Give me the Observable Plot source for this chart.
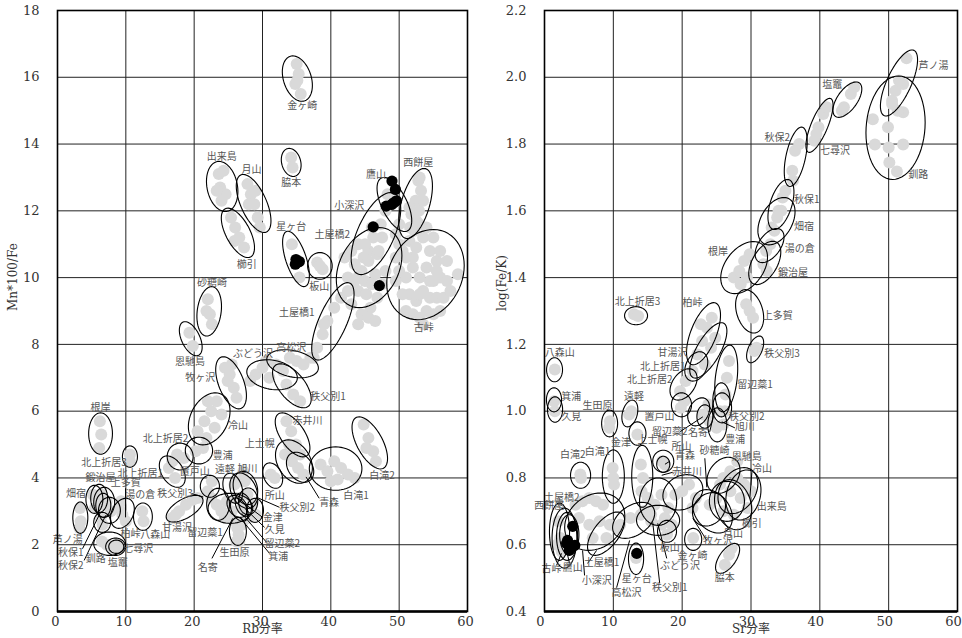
<!DOCTYPE html>
<html><head><meta charset="utf-8">
<script src="https://cdn.jsdelivr.net/npm/d3@7"></script>
<script src="https://cdn.jsdelivr.net/npm/@observablehq/plot@0.6"></script>
<style>
body{margin:0;background:#fff}
#wrap{display:flex;width:962px;height:638px;overflow:hidden}
</style>
</head><body><div id="wrap"></div>
<script>
// ---------- axis / tick data ----------
const xTicks = [0,10,20,30,40,50,60];
const leftYTicks = [0,2,4,6,8,10,12,14,16,18];
const rightYTicks = [0.4,0.6,0.8,1.0,1.2,1.4,1.6,1.8,2.0,2.2];
const leftTitles = {x:"Rb分率", y:"Mn*100/Fe"};
const rightTitles = {x:"Sr分率", y:"log(Fe/K)"};

// ---------- LEFT panel: Rb vs Mn*100/Fe ----------
// ellipses: [cx, cy, halfX, halfY, correlation]
const leftEllipses = [
[35.1,15.96,2.2,0.68,-0.3],[24.1,12.73,2.3,0.75,-0.2],[28.7,12.22,2.54,0.87,-0.6],[26.4,11.34,2.43,0.74,-0.6],
[34.2,13.45,1.45,0.42,-0.2],[34.9,10.56,1.96,0.83,-0.6],[38.4,10.35,1.8,0.4,0],[52.4,12.22,2.47,1.05,0.5],
[49.3,12.19,2.54,0.81,-0.6],[46.6,11.32,3.63,1.23,0.6],[45.6,10.3,4.8,1.2,0.3],[53.85,10.09,5.67,1.35,0.2],
[40.3,8.69,3.1,1.16,0.7],[22.2,8.99,1.8,0.74,0.2],[19.5,8.17,1.67,0.51,-0.5],[25.4,6.85,2.25,0.78,-0.5],
[31.4,7.09,3.7,0.45,-0.2],[34.4,7.42,3.78,0.42,-0.3],[34.3,6.76,2.83,0.66,-0.6],[22.2,5.77,3.05,0.78,0.3],
[6.3,5.33,1.74,0.62,0],[34.4,5.29,2.54,0.66,-0.6],[45.7,5.05,2.6,0.78,-0.6],[40.7,4.28,3.85,0.65,0],
[34.6,4.49,2.7,0.65,-0.3],[35.5,4.32,2.0,0.45,-0.3],[31.5,4.07,1.45,0.38,-0.3],[27.25,3.62,2.03,0.53,-0.3],
[27.5,3.7,1.8,0.5,-0.2],[25.65,3.69,1.45,0.45,-0.3],[22.3,3.75,1.4,0.33,0],[20.7,4.82,2.0,0.4,0],
[17.95,4.64,1.9,0.4,0],[16.8,4.19,1.9,0.47,-0.4],[10.6,4.64,1.1,0.32,0],[18.6,3.08,2.7,0.4,0.6],
[23.5,3.21,1.67,0.48,0],[25.3,3.09,3.27,0.45,0],[26.3,3.15,1.5,0.33,-0.3],[26.6,3.05,1.3,0.35,-0.4],
[27.2,3.2,1.2,0.35,-0.3],[27.9,3.3,1.4,0.4,0],[28.9,3.03,1.24,0.36,0],[26.4,2.4,1.24,0.42,0],
[3.34,2.81,1.1,0.47,0],[5.4,3.36,1.24,0.42,0],[6.1,3.39,1.24,0.42,0],[6.83,3.27,1.53,0.45,0],
[6.7,3.18,1.1,0.36,0],[7.6,3.03,1.6,0.39,0],[9.5,2.94,1.74,0.45,0.3],[12.5,2.84,1.38,0.41,0],
[6.54,2.67,1.24,0.3,0],[7.63,2.03,2.33,0.35,0],[8.5,1.94,1.45,0.26,0],[8.6,1.94,1.1,0.2,0]
];
const leftGrey = [
[35.0,16.4],[35.3,16.1],[34.8,15.8],[35.6,15.5],[35.1,15.9],
[23.6,13.1],[24.3,13.2],[23.8,12.7],[24.6,12.5],[24.0,12.3],[23.3,12.6],
[27.8,12.8],[28.3,12.5],[28.8,12.2],[29.3,11.8],[29.6,11.5],[28.0,12.2],[29.0,12.6],
[25.4,11.8],[26.0,11.5],[26.6,11.2],[27.3,10.9],[25.9,11.1],
[34.2,13.6],[34.4,13.3],[34.3,11.0],[35.4,10.0],
[38.0,10.45],[38.8,10.25],[38.4,10.35],
[52.8,12.9],[53.2,12.6],[52.4,12.3],[51.8,11.9],[52.9,12.0],[51.6,11.5],[52.2,11.4],[53.5,12.3],[51.5,12.1],[52.5,11.7],[53.0,13.0],
[48.3,12.5],[50.0,11.6],[49.5,11.3],
[45.5,10.8],[46.2,11.2],[47.3,11.6],[48.0,12.0],[44.8,10.6],[46.8,10.7],
[42.5,10.0],[43.5,10.4],[44.5,10.2],[45.5,10.5],[46.5,10.1],[44.0,9.6],[45.2,9.5],[46.8,9.4],[43.0,9.2],[44.5,8.9],[47.0,10.8],[48.0,10.2],[42.0,10.6],
[43.0,10.8],[44.0,11.0],[45.0,11.0],[46.0,11.5],[47.5,11.2],[44.0,10.0],[45.0,9.9],[46.0,9.8],[43.5,9.9],[47.5,9.8],[42.5,9.6],[45.8,9.1],[44.0,8.6],[45.5,8.8],[46.5,8.7],
[50.5,10.8],[51.5,11.1],[52.5,10.9],[53.5,11.2],[54.5,10.8],[55.5,10.5],[50.0,10.2],[51.0,10.0],[52.0,10.3],[53.0,10.0],[54.0,10.3],[55.0,9.9],[56.0,10.0],[57.0,9.9],
[51.5,9.5],[52.5,9.3],[53.5,9.6],[54.5,9.4],[55.5,9.4],[56.5,9.4],[52.0,8.9],[53.0,8.8],[54.0,9.0],[50.5,9.5],[58.6,10.1],[49.5,10.6],
[50.0,11.0],[52.0,11.5],[53.0,11.6],[54.0,11.5],[55.0,11.2],[56.0,10.8],[57.0,10.5],[49.5,9.9],[51.0,9.0],[55.0,8.9],[56.0,9.0],[57.5,9.6],[53.5,8.6],[52.0,10.6],[54.5,9.9],[53.0,9.5],[55.5,10.2],[51.0,10.6],
[38.0,7.9],[38.8,8.3],[39.5,8.7],[40.5,9.1],[41.5,9.4],[37.5,7.6],[39.0,8.6],
[22.0,9.35],[22.3,8.9],[22.6,8.6],[21.8,9.0],[19.3,8.35],[19.8,7.95],
[24.5,7.3],[25.2,7.1],[25.8,6.7],[26.2,6.4],[24.9,6.9],[25.5,7.4],
[29.0,7.1],[30.0,7.3],[31.0,7.0],[32.0,7.4],[33.0,7.2],[34.0,7.6],[35.0,7.5],[36.0,7.4],[37.0,7.6],[33.5,6.8],[34.5,6.5],[35.5,6.3],[30.5,7.5],[28.2,6.9],
[20.5,5.4],[21.5,5.7],[22.5,6.0],[23.3,6.3],[21.8,5.2],[23.0,5.5],[22.0,6.3],[24.0,5.9],
[6.2,5.7],[6.4,5.3],[6.1,4.9],
[33.5,5.7],[34.2,5.4],[34.9,5.0],[35.5,4.7],[33.9,5.0],
[44.8,5.6],[45.5,5.2],[46.2,4.8],[46.6,4.5],[45.2,4.9],
[38.5,4.4],[39.5,4.2],[40.5,4.5],[41.5,4.3],[42.5,4.1],[40.0,3.9],[41.0,3.95],[43.5,4.0],
[33.3,4.7],[34.3,4.5],[35.2,4.3],[36.0,4.1],[34.8,4.8],
[31.2,4.1],[31.8,4.0],[20.2,4.8],[21.3,4.9],[17.5,4.7],[18.5,4.6],[16.3,4.3],[17.2,4.0],[16.8,4.5],[10.6,4.7],[10.6,4.5],
[16.8,2.8],[17.8,3.0],[18.8,3.2],[19.8,3.35],[20.5,3.4],[17.3,2.9],
[22.5,3.4],[23.3,3.2],[24.0,3.0],[24.8,3.3],[25.5,3.0],[26.2,3.4],[27.0,3.1],[27.8,3.5],[28.5,3.2],[29.0,2.9],[25.9,3.8],[26.5,3.9],[27.4,3.9],[27.2,4.2],
[22.6,3.9],[22.0,3.6],[24.5,2.8],[26.0,2.7],[27.0,2.6],[28.0,2.8],[26.5,2.3],[26.2,2.1],[26.3,2.5],[26.6,2.1],
[3.3,3.1],[3.4,2.7],[3.2,2.5],
[5.2,3.5],[5.8,3.4],[6.5,3.5],[6.8,3.2],[7.2,3.3],[7.8,3.0],[6.3,2.8],[6.6,2.6],[5.5,3.1],
[9.0,3.1],[9.5,2.9],[10.0,2.7],[9.3,3.3],[12.4,3.0],[12.6,2.7],
[6.5,2.1],[7.2,2.0],[8.0,1.9],[8.7,2.0],[9.0,1.9]
];
const leftBlack = [
[48.95,12.89],[49.45,12.64],[48.1,12.14],[49.2,12.24],[48.9,12.19],[49.6,12.3],
[34.9,10.54],[35.1,10.45],[35.4,10.48],[34.8,10.4],[46.2,11.52],[47.1,9.76]
];
const leftLabels = [
["金ヶ崎",35.8,15.14],["出来島",24.05,13.63],["月山",28.4,13.24],["脇本",34.2,12.85],["櫛引",27.7,10.39],
["星ヶ台",34.2,11.53],["板山",38.3,9.73],["西餅屋",52.8,13.45],["鷹山",46.6,13.09],["小深沢",42.7,12.16],
["土屋橋2",40.2,11.29],["古峠",53.6,8.5],["土屋橋1",35.0,8.95],["砂糖崎",22.6,9.85],["恩馳島",19.4,7.48],
["ぶどう沢",28.6,7.72],["高松沢",34.2,7.9],["牧ヶ沢",20.9,7.0],["秩父別1",39.6,6.43],["冷山",26.4,5.56],
["根岸",6.3,6.1],["赤井川",36.6,5.71],["白滝2",47.5,4.05],["白滝1",43.7,3.48],["上士幌",29.6,5.02],
["青森",39.75,3.27],["所山",31.8,3.48],["秩父別2",35.1,3.12],["旭川",27.8,4.26],["遠軽",24.5,4.23],
["置戸山",20.1,4.17],["豊浦",24.2,4.65],["北上折居2",15.8,5.17],["北上折居1",12.1,4.11],["北上折居3",6.8,4.44],
["秩父別3",17.2,3.54],["甘湯沢",17.5,2.52],["留辺蘂1",21.6,2.37],["名寄",22.0,1.32],["生田原",25.9,1.77],
["金津",31.5,2.82],["久見",31.8,2.46],["留辺蘂2",32.9,2.04],["箕浦",32.3,1.65],["芦ノ湯",1.5,2.16],
["畑宿",2.7,3.54],["鍛治屋",6.3,3.99],["上多賀",10.0,3.84],["湯の倉",12.1,3.51],["柏峠",10.7,2.34],
["八森山",14.3,2.31],["七尋沢",11.8,1.89],["塩竈",8.8,1.47],["釧路",5.6,1.59],["秋保1",1.96,1.77],["秋保2",1.96,1.38]
];
const leftLeaders = [
[36.37,4.03,38.3,3.39],[29.14,3.42,32.49,3.12],[27.69,3.18,30.01,2.82],[27.4,3.09,30.3,2.52],
[26.96,2.94,30.6,2.07],[26.67,2.82,31.03,1.74],[22.6,1.59,25.65,2.79],[3.66,1.88,6.32,2.98],
[3.9,1.53,7.05,2.88],[9.96,3.69,9.96,2.82],[19.65,3.53,21.34,3.43]
];

// ---------- RIGHT panel: Sr vs log(Fe/K) ----------
const rightEllipses = [
[51.5,1.983,2.7,0.099,0.7],[51.0,1.849,4.3,0.155,0.1],[44.0,1.933,2.1,0.053,0.6],[39.95,1.856,1.97,0.081,0.75],
[36.5,1.762,1.67,0.089,0.5],[34.35,1.619,1.89,0.075,0.5],[33.7,1.569,2.7,0.071,0.4],[32.7,1.496,2.1,0.051,0.5],
[29.0,1.43,3.4,0.078,0.4],[32.0,1.444,2.33,0.065,0.5],[29.8,1.299,2.04,0.065,-0.3],[30.6,1.185,1.24,0.04,0.5],
[23.1,1.232,2.47,0.093,0.6],[23.8,1.182,2.7,0.083,0.7],[22.05,1.134,1.67,0.044,0.3],[20.2,1.08,1.97,0.047,0.4],
[19.9,1.019,1.46,0.036,0],[26.4,1.098,1.67,0.1,0.3],[25.7,1.034,1.24,0.051,0],[25.8,1.01,1.38,0.045,0],
[23.3,0.984,1.16,0.035,0],[25.1,0.959,1.38,0.051,0],[22.4,0.998,1.6,0.042,0.3],[13.3,1.286,1.67,0.027,0],
[1.46,1.124,1.16,0.036,0],[1.38,1.034,1.1,0.036,0],[1.53,1.005,1.1,0.038,0],[9.46,0.963,1.16,0.04,0],
[12.4,0.993,1.16,0.04,0.3],[13.5,0.933,1.24,0.035,0],[5.24,0.808,1.46,0.039,0],[10.0,0.804,1.6,0.08,0],
[14.2,0.805,1.53,0.093,0],[17.25,0.85,1.53,0.033,0],[17.25,0.841,0.95,0.024,0],[16.5,0.729,2.7,0.071,0],
[2.18,0.639,1.46,0.086,0],[3.28,0.625,1.53,0.072,0],[7.3,0.669,4.37,0.086,0.2],[8.95,0.633,2.7,0.065,0.6],
[3.6,0.63,1.4,0.06,0],[13.3,0.558,1.1,0.047,0],[12.95,0.673,3.06,0.054,0.4],[16.5,0.673,3.13,0.045,0],
[17.8,0.64,1.38,0.033,0],[21.6,0.616,1.24,0.033,0],[26.6,0.559,1.75,0.045,0.6],[20.1,0.757,2.9,0.053,0.2],
[24.4,0.7,2.9,0.065,-0.3],[26.0,0.808,2.4,0.054,0.3],[28.1,0.762,2.9,0.069,0.3],[28.9,0.749,2.55,0.075,0.2],
[27.4,0.72,2.7,0.075,-0.2],[26.5,0.73,2.55,0.06,0],[23.9,0.706,2.4,0.05,0.2],[2.9,0.62,1.8,0.09,0]
];
const rightGrey = [
[52.6,2.057],[52.1,1.98],[51.0,1.96],[50.5,1.93],[51.5,1.99],
[47.7,1.874],[49.9,1.85],[52.1,1.895],[48.0,1.799],[52.1,1.799],[50.1,1.745],[51.2,1.718],[50.0,1.79],[50.5,1.92],[51.3,1.90],
[43.5,1.91],[44.5,1.95],[45.0,1.97],[43.2,1.90],
[39.2,1.81],[39.8,1.85],[40.5,1.89],[41.0,1.91],[39.5,1.83],
[36.0,1.72],[36.4,1.78],[37.0,1.80],[36.1,1.69],
[34.0,1.60],[34.6,1.64],[35.0,1.66],
[33.0,1.55],[33.8,1.58],[34.4,1.60],[33.4,1.54],
[32.2,1.48],[32.8,1.50],[31.8,1.44],[32.3,1.42],
[27.5,1.40],[28.3,1.42],[29.0,1.45],[29.8,1.47],[28.5,1.38],[29.4,1.40],
[29.3,1.32],[29.8,1.30],[30.3,1.28],[30.5,1.18],[30.8,1.19],
[22.2,1.17],[22.9,1.21],[23.6,1.25],[24.3,1.28],[23.3,1.14],[24.2,1.19],[24.8,1.22],[22.7,1.26],
[21.5,1.12],[20.5,1.09],[19.7,1.06],[20.3,1.03],[19.8,1.01],
[26.3,1.05],[26.5,1.10],[26.8,1.15],[26.2,1.0],
[23.0,0.99],[24.0,0.97],[25.0,0.95],[25.5,1.0],[26.0,0.96],[23.8,1.02],
[13.0,1.29],[13.6,1.285],[1.5,1.125],[1.4,1.03],[1.5,1.00],
[9.5,0.97],[9.4,0.95],[12.3,0.99],[12.6,1.0],[13.5,0.93],
[5.2,0.81],[5.3,0.80],[9.9,0.83],[10.1,0.78],[10.0,0.80],
[14.0,0.84],[14.3,0.80],[14.1,0.76],[17.1,0.85],[17.5,0.84],
[15.0,0.74],[16.0,0.72],[17.0,0.75],[18.0,0.71],[15.5,0.69],[17.5,0.68],[14.5,0.70],
[4.5,0.72],[5.5,0.73],[6.5,0.74],[7.5,0.73],[8.5,0.72],[5.0,0.68],[6.5,0.66],[8.0,0.67],[9.5,0.66],[10.5,0.65],[9.0,0.62],[7.0,0.62],
[2.0,0.67],[2.3,0.62],[2.5,0.58],[1.8,0.60],
[11.0,0.66],[12.5,0.68],[14.0,0.69],[15.5,0.67],[17.0,0.66],[18.5,0.66],[17.8,0.63],
[13.3,0.56],[21.6,0.62],
[19.0,0.75],[20.0,0.76],[21.0,0.78],[22.0,0.74],[21.5,0.71],
[24.0,0.72],[25.0,0.74],[26.0,0.80],[27.0,0.82],[28.0,0.80],[29.0,0.78],[30.0,0.76],[27.0,0.76],[28.5,0.74],[26.0,0.70],[27.5,0.69],[29.5,0.71],[25.5,0.78],[28.0,0.85],
[26.2,0.54],[26.8,0.57],[27.2,0.59]
];
const rightBlack = [
[4.1,0.655],[3.35,0.613],[3.2,0.604],[3.9,0.592],[4.4,0.598],[3.6,0.583],[3.5,0.60],[13.4,0.574]
];
const rightLabels = [
["芦ノ湯",56.5,2.034],["釧路",54.3,1.709],["塩竈",41.8,1.977],["七尋沢",42.2,1.781],["秋保2",33.8,1.82],
["秋保1",38.1,1.634],["畑宿",37.7,1.553],["湯の倉",37.1,1.487],["根岸",25.2,1.478],["鍛治屋",36.1,1.415],
["上多賀",33.9,1.286],["秩父別3",34.5,1.172],["柏峠",21.5,1.325],["北上折居3",13.5,1.328],["甘湯沢",18.6,1.175],
["北上折居1",17.2,1.133],["北上折居2",15.3,1.094],["留辺蘂1",30.6,1.079],["置戸山",16.7,0.983],["秩父別2",29.4,0.983],
["旭川",29.1,0.953],["名寄",22.3,0.935],["留辺蘂2",18.2,0.938],["豊浦",27.7,0.914],["八森山",2.2,1.175],
["箕浦",3.9,1.043],["久見",3.9,0.983],["生田原",7.7,1.016],["遠軽",13.0,1.043],["金津",11.1,0.905],
["上士幌",15.7,0.914],["所山",19.9,0.892],["青森",20.4,0.865],["白滝2",4.1,0.868],["白滝1",7.7,0.877],
["赤井川",20.7,0.817],["砂糖崎",24.7,0.88],["恩馳島",29.4,0.862],["冷山",31.6,0.826],["出来島",33.0,0.715],
["櫛引",30.1,0.664],["月山",27.4,0.634],["牧ヶ沢",25.2,0.613],["脇本",26.2,0.502],["金ヶ崎",21.5,0.568],
["ぶどう沢",19.7,0.538],["板山",18.2,0.592],["秩父別1",18.2,0.472],["星ヶ台",13.4,0.499],["高松沢",11.9,0.457],
["小深沢",7.6,0.493],["土屋橋1",8.3,0.547],["鷹山",4.1,0.532],["古峠",1.0,0.529],["土屋橋2",2.5,0.742],["西餅屋",0.7,0.718]
];
const rightLeaders = [
[5.82,0.508,5.53,0.583],[10.48,0.472,12.37,0.613],[16.74,0.484,15.72,0.667],[17.76,0.559,16.45,0.664],
[6.26,0.544,7.57,0.583],[3.64,0.544,3.2,0.583],[1.75,0.538,2.47,0.574],[23.58,0.613,21.54,0.679],
[26.9,0.643,25.9,0.673],[23.29,0.859,23.58,0.772],[30.13,0.817,29.84,0.742],[19.65,0.938,23.0,0.983],
[24.0,0.938,24.75,1.004],[25.76,0.968,27.66,0.95],[18.63,0.817,17.03,0.808],[18.2,0.85,17.5,0.841]
];

// ---------- drawing ----------
function ellipseOutline(list) {
  const out = [];
  list.forEach(([cx, cy, rx, ry, rho], k) => {
    const s = Math.sqrt(1 - rho * rho);
    for (let i = 0; i <= 60; i++) {
      const t = (i / 60) * 2 * Math.PI;
      out.push({k, x: cx + rx * Math.cos(t), y: cy + ry * (rho * Math.cos(t) + s * Math.sin(t))});
    }
  });
  return out;
}

function panel({yDomain, yTicks, yFmt, ellipses, grey, black, labels, leaders, titles, marginLeft, marginRight, titleDx, tickDx}) {
  const siteFont = "'Noto Sans CJK JP', sans-serif";
  return Plot.plot({
    width: 481, height: 638,
    marginTop: 10, marginBottom: 27, marginLeft, marginRight,
    style: {fontFamily: "'DejaVu Serif', 'Noto Sans CJK JP', serif", fontSize: "13px", color: "#333", background: "#fff"},
    x: {domain: [0, 60], label: null},
    y: {domain: yDomain, label: null},
    marks: [
      Plot.ruleX(xTicks.slice(1, -1), {stroke: "#222", strokeWidth: 1}),
      Plot.ruleY(yTicks.slice(1, -1), {stroke: "#222", strokeWidth: 1}),
      Plot.dot(grey, {x: d => d[0], y: d => d[1], r: 6, fill: "#d9d9d9", stroke: "none"}),
      Plot.dot(black, {x: d => d[0], y: d => d[1], r: 5.6, fill: "#000", stroke: "none"}),
      Plot.line(ellipseOutline(ellipses), {x: "x", y: "y", z: "k", stroke: "#000", strokeWidth: 1.1}),
      Plot.link(leaders, {x1: d => d[0], y1: d => d[1], x2: d => d[2], y2: d => d[3], stroke: "#000", strokeWidth: 1}),
      Plot.text(labels, {x: d => d[1], y: d => d[2], text: d => d[0], fontFamily: siteFont, fontSize: 10, fill: "#555"}),
      Plot.axisX({ticks: xTicks, tickSize: 0, tickPadding: 5, dx: tickDx, label: null}),
      Plot.axisY({ticks: yTicks, tickSize: 0, tickPadding: 18, tickFormat: yFmt, label: null}),
      Plot.frame({stroke: "#000", strokeWidth: 1.6}),
      Plot.ruleY([yDomain[0]], {stroke: "#000", strokeWidth: 2.6}),
      Plot.text([titles.x], {frameAnchor: "bottom", dy: 21, text: d => d, fontSize: 12, fill: "#333"}),
      Plot.text([titles.y], {frameAnchor: "left", dx: titleDx, rotate: -90, text: d => d, fontSize: 12, fill: "#333"})
    ]
  });
}

const wrap = document.getElementById("wrap");
wrap.append(panel({
  yDomain: [0, 18], yTicks: leftYTicks, yFmt: d3.format("d"),
  ellipses: leftEllipses, grey: leftGrey, black: leftBlack, labels: leftLabels, leaders: leftLeaders,
  titles: leftTitles, marginLeft: 57, marginRight: 14, titleDx: -44, tickDx: -2
}));
wrap.append(panel({
  yDomain: [0.4, 2.2], yTicks: rightYTicks, yFmt: d3.format(".1f"),
  ellipses: rightEllipses, grey: rightGrey, black: rightBlack, labels: rightLabels, leaders: rightLeaders,
  titles: rightTitles, marginLeft: 63, marginRight: 5, titleDx: -42, tickDx: -4
}));
</script>
</body></html>
